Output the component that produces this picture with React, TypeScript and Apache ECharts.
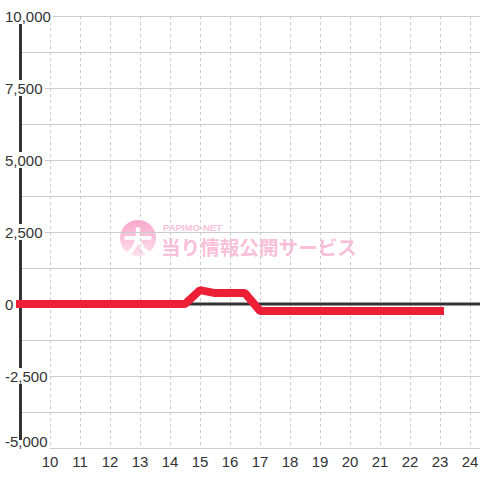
import React, { useEffect, useRef } from "react";
import * as echarts from "echarts";

const hours = [9, 9.5, 10, 10.5, 11, 11.5, 12, 12.5, 13, 13.5, 14, 14.5, 15, 15.5, 16, 16.5, 17, 17.5, 18, 18.5, 19, 19.5, 20, 20.5, 21, 21.5, 22, 22.5, 23];
const values = [0, 0, 0, 0, 0, 0, 0, 0, 0, 0, 0, 0, 480, 380, 380, 380, -240, -240, -240, -240, -240, -240, -240, -240, -240, -240, -240, -240, -240];
const xMin = 9;
const xMax = 24.5;
const yMin = -5000;
const yMax = 10000;
const yGridStep = 1250;
const yLabelStep = 2500;
const zeroLine = [[xMin, 0], [xMax, 0]];

const FONT = "'Liberation Sans', Arial, sans-serif";
const CJK = "'Noto Sans CJK JP', sans-serif";
const PINK = "#f9bfd9";

export default function App() {
  const ref = useRef<HTMLDivElement>(null);
  useEffect(() => {
    if (!ref.current) return;
    const chart = echarts.init(ref.current, undefined, { renderer: "svg" });
    chart.setOption({
      animation: false,
      backgroundColor: "#ffffff",
      grid: { left: 20, top: 16, width: 465, bottom: 32, outerBoundsMode: "none", containLabel: false },
      xAxis: {
        type: "value",
        min: xMin,
        max: xMax,
        interval: 1,
        axisLine: { show: false },
        axisTick: { show: false },
        axisLabel: {
          show: true,
          showMinLabel: false,
          showMaxLabel: false,
          fontSize: 15,
          color: "#333",
          fontFamily: FONT,
          margin: 6,
        },
        splitLine: { show: true, lineStyle: { color: "#cccccc", width: 1, type: [3, 3] } },
      },
      yAxis: [
        {
          type: "value",
          position: "left",
          min: yMin,
          max: yMax,
          interval: yGridStep,
          axisLine: { show: false },
          axisTick: { show: false },
          axisLabel: { show: false },
          splitLine: { show: true, lineStyle: { color: "#cccccc", width: 1 } },
        },
        {
          type: "value",
          position: "left",
          min: yMin,
          max: yMax,
          interval: yLabelStep,
          axisLine: { show: true, lineStyle: { color: "#333333", width: 3 } },
          axisTick: { show: false },
          splitLine: { show: false },
          axisLabel: {
            show: true,
            align: "left",
            margin: 17,
            fontSize: 15,
            lineHeight: 14,
            color: "#333",
            fontFamily: FONT,
            backgroundColor: "#ffffff",
            padding: [1, 2, 1, 2],
            formatter: (v: number) =>
              v === yMin ? `{low|${v.toLocaleString("en-US")}}` : v.toLocaleString("en-US"),
            rich: {
              low: {
                fontSize: 15,
                lineHeight: 14,
                color: "#333",
                fontFamily: FONT,
                padding: [0, 0, 14, 0],
              },
            },
          },
        },
      ],
      graphic: [
        {
          type: "group",
          z: -10,
          silent: true,
          children: [
            {
              type: "circle",
              z: -10,
              shape: { cx: 138, cy: 238, r: 18 },
              style: {
                fill: new echarts.graphic.LinearGradient(0, 0, 0, 1, [
                  { offset: 0, color: "#f8a6ca" },
                  { offset: 1, color: "#fde0ed" },
                ]),
              },
            },
            {
              type: "text",
              z: -10,
              x: 138,
              y: 240,
              style: {
                text: "大",
                fill: "#ffffff",
                font: `bold 30px ${CJK}`,
                align: "center",
                verticalAlign: "middle",
              },
            },
            {
              type: "text",
              z: -10,
              x: 163,
              y: 227,
              style: {
                text: "PAPIMO-NET",
                fill: PINK,
                font: `bold 9.5px ${FONT}`,
                align: "left",
                verticalAlign: "middle",
              },
            },
            {
              type: "text",
              z: -10,
              x: 161,
              y: 246,
              style: {
                text: "当り情報公開サービス",
                fill: PINK,
                font: `bold 19.6px ${CJK}`,
                align: "left",
                verticalAlign: "middle",
              },
            },
          ],
        },
      ],
      series: [
        {
          type: "line",
          yAxisIndex: 0,
          data: zeroLine,
          symbol: "none",
          silent: true,
          lineStyle: { color: "#333333", width: 3 },
        },
        {
          type: "line",
          yAxisIndex: 0,
          data: hours.map((h, i) => [h, values[i]]),
          symbol: "none",
          clip: false,
          lineStyle: { color: "#ec1f37", width: 8, cap: "square", join: "bevel" },
        },
      ],
    });
    return () => chart.dispose();
  }, []);
  return (
    <div
      ref={ref}
      style={{ position: "fixed", left: 0, top: 0, width: 480, height: 480 }}
    />
  );
}
